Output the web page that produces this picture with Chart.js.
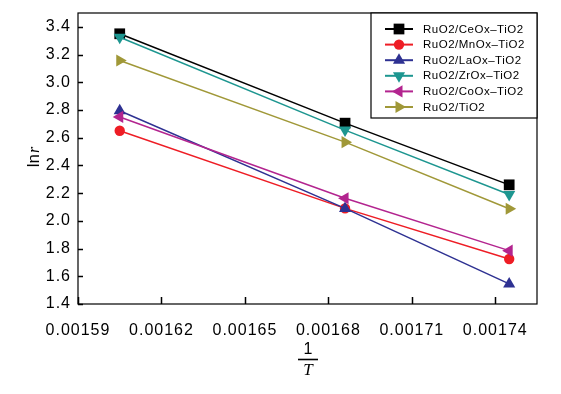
<!DOCTYPE html>
<html><head><meta charset="utf-8">
<script src="https://cdn.jsdelivr.net/npm/chart.js@4/dist/chart.umd.min.js"></script>
<style>html,body{margin:0;padding:0;background:#fff}#wrap{width:561px;height:394px}</style>
</head><body><div id="wrap"><canvas id="c" width="561" height="394"></canvas></div>
<script>
// ---- data ----
const invT = [0.001605, 0.001686, 0.001745];           // 1/T
const seriesNames = ["RuO2/CeOx\u2013TiO2", "RuO2/MnOx\u2013TiO2", "RuO2/LaOx\u2013TiO2",
                     "RuO2/ZrOx\u2013TiO2", "RuO2/CoOx\u2013TiO2", "RuO2/TiO2"];
const ceox = [3.35, 2.705, 2.26];
const mnox = [2.65, 2.09, 1.725];
const laox = [2.795, 2.09, 1.545];
const zrox = [3.325, 2.655, 2.19];
const coox = [2.75, 2.163, 1.785];
const tio2 = [3.157, 2.568, 2.087];
const xTickValues = [0.00159, 0.00162, 0.00165, 0.00168, 0.00171, 0.00174];
const yTickValues = [1.4, 1.6, 1.8, 2.0, 2.2, 2.4, 2.6, 2.8, 3.0, 3.2, 3.4];

// ---- styles ----
const colors = ["#000000", "#ee1d25", "#2e3192", "#1d9690", "#b3248f", "#a09838"];
const pStyles = ["rect", "circle", "triangle", "triangle", "triangle", "triangle"];
const pRot = [0, 0, 0, 180, -90, 90];
const pRad = [7.6, 5.2, 7, 7, 7, 7];
const values = [ceox, mnox, laox, zrox, coox, tio2];

const datasets = values.map((v, i) => ({
  label: seriesNames[i],
  data: v.map((y, k) => ({x: invT[k], y: y})),
  borderColor: colors[i],
  backgroundColor: colors[i],
  borderWidth: 1.5,
  pointStyle: pStyles[i],
  pointRotation: pRot[i],
  pointRadius: pRad[i],
  pointBorderWidth: 0,
  pointHoverRadius: pRad[i],
  showLine: true,
  tension: 0,
  order: 10 - i,
  clip: false
}));

const FONT = "'Liberation Sans', Arial, Helvetica, sans-serif";

const decor = {
  id: 'decor',
  beforeDraw(chart) {
    try { chart.ctx.letterSpacing = '1px'; } catch (e) {}
  },
  afterDatasetsDraw(chart) {
    const ctx = chart.ctx, a = chart.chartArea;
    const xs = chart.scales.x, ys = chart.scales.y;
    ctx.save();
    ctx.strokeStyle = '#000';
    ctx.lineWidth = 1.2;
    ctx.strokeRect(a.left, a.top, a.right - a.left, a.bottom - a.top);
    ctx.lineWidth = 1.5;
    ctx.beginPath();
    ys.ticks.forEach(t => {
      const y = Math.round(ys.getPixelForValue(t.value)) + 0.5;
      ctx.moveTo(a.left, y); ctx.lineTo(a.left + 5, y);
    });
    xs.ticks.forEach(t => {
      const x = Math.round(xs.getPixelForValue(t.value)) + 0.5;
      ctx.moveTo(x, a.bottom); ctx.lineTo(x, a.bottom - 7);
    });
    ctx.stroke();

    // x title: 1 / T
    const cx = (a.left + a.right) / 2 + 0.5;
    ctx.letterSpacing = '0px';
    ctx.fillStyle = '#000';
    ctx.textAlign = 'center';
    ctx.textBaseline = 'middle';
    ctx.font = "16px " + FONT;
    ctx.fillText("1", cx, 350);
    ctx.lineWidth = 1.6;
    ctx.beginPath();
    ctx.moveTo(cx - 10, 359.5); ctx.lineTo(cx + 10, 359.5);
    ctx.stroke();
    ctx.font = "italic 17px 'Liberation Serif', 'Times New Roman', serif";
    ctx.fillText("T", cx, 371);

    // y title: ln r
    ctx.save();
    ctx.translate(33, 157);
    ctx.rotate(-Math.PI / 2);
    ctx.font = "17px " + FONT;
    const w1 = ctx.measureText("ln").width;
    ctx.font = "italic 16px 'Liberation Serif', 'Times New Roman', serif";
    const w2 = ctx.measureText("r").width;
    const start = -(w1 + w2 + 1) / 2;
    ctx.textAlign = 'left';
    ctx.textBaseline = 'alphabetic';
    ctx.font = "17px " + FONT;
    ctx.fillText("ln", start, 6);
    ctx.font = "italic 16px 'Liberation Serif', 'Times New Roman', serif";
    ctx.fillText("r", start + w1 + 1, 6);
    ctx.restore();

    // legend
    const lx = 371, ly = a.top, lw = a.right - 371, lh = 105;
    ctx.fillStyle = '#fff';
    ctx.fillRect(lx, ly, lw, lh);
    ctx.strokeStyle = '#000';
    ctx.lineWidth = 1.2;
    ctx.strokeRect(lx, ly, lw, lh);
    ctx.font = "11.5px " + FONT;
    ctx.letterSpacing = '0.5px';
    ctx.textAlign = 'left';
    ctx.textBaseline = 'middle';
    chart.data.datasets.forEach((ds, i) => {
      const y = 29 + i * 15.6;
      ctx.strokeStyle = ds.borderColor;
      ctx.lineWidth = 2;
      ctx.beginPath();
      ctx.moveTo(385, y); ctx.lineTo(413, y);
      ctx.stroke();
      ctx.fillStyle = ds.backgroundColor;
      Chart.helpers.drawPoint(ctx, {pointStyle: ds.pointStyle, rotation: ds.pointRotation,
        radius: ds.pointRadius, borderWidth: 0}, 399, y);
      ctx.fillStyle = '#000';
      ctx.fillText(ds.label, 423, y + 0.5);
    });
    ctx.restore();
  }
};

new Chart(document.getElementById('c'), {
  type: 'scatter',
  data: {datasets: datasets},
  options: {
    responsive: false,
    animation: false,
    devicePixelRatio: 1,
    layout: {padding: {top: 13, right: 24, left: 0, bottom: 0}},
    plugins: {legend: {display: false}, tooltip: {enabled: false}},
    scales: {
      x: {
        type: 'linear',
        min: 0.00159, max: 0.001755,
        grid: {display: false, drawTicks: false},
        border: {display: false},
        afterBuildTicks: s => { s.ticks = xTickValues.map(v => ({value: v})); },
        afterFit: s => { s.height = 90; s.paddingLeft = 0; s.paddingRight = 0; },
        ticks: {
          autoSkip: false, maxRotation: 0, padding: 17,
          color: '#000', font: {family: FONT, size: 16},
          callback: v => v.toFixed(5)
        }
      },
      y: {
        min: 1.4, max: 3.5,
        grid: {display: false, drawTicks: false},
        border: {display: false},
        afterBuildTicks: s => { s.ticks = yTickValues.map(v => ({value: v})); },
        afterFit: s => { s.width = 78; s.paddingTop = 0; s.paddingBottom = 0; },
        ticks: {
          autoSkip: false, padding: 7,
          color: '#000', font: {family: FONT, size: 16},
          callback: v => v.toFixed(1)
        }
      }
    }
  },
  plugins: [decor]
});
</script></body></html>
